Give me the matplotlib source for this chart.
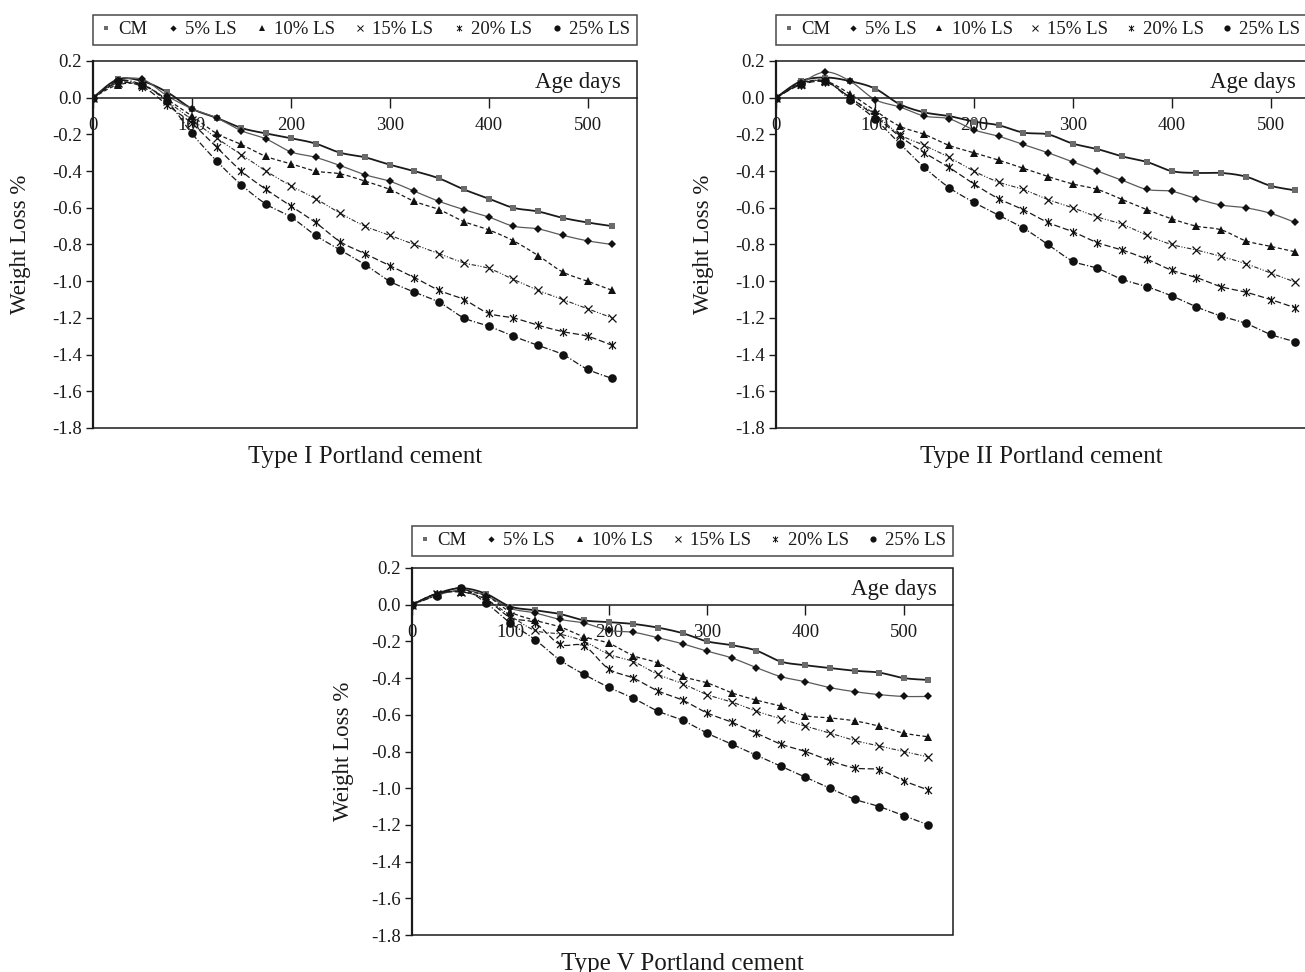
import numpy as np
import matplotlib
matplotlib.use("Agg")
import matplotlib.pyplot as plt
from matplotlib.patches import Rectangle
from matplotlib.lines import Line2D
from matplotlib.path import Path

plt.rcParams['font.family'] = ['Liberation Serif', 'DejaVu Serif']

# ---- data -------------------------------------------------------------
days = [0, 25, 50, 75, 100, 125, 150, 175, 200, 225, 250, 275, 300,
        325, 350, 375, 400, 425, 450, 475, 500, 525]
series_labels = ["CM", "5% LS", "10% LS", "15% LS", "20% LS", "25% LS"]
x_ticks = [0, 100, 200, 300, 400, 500]
y_ticks = [0.2, 0.0, -0.2, -0.4, -0.6, -0.8, -1.0, -1.2, -1.4, -1.6, -1.8]

# Type I Portland cement
t1_cm = [0, 0.10, 0.09, 0.03, -0.06, -0.11, -0.165, -0.195, -0.22, -0.25, -0.30,
         -0.325, -0.365, -0.40, -0.44, -0.50, -0.55, -0.60, -0.62, -0.655, -0.68, -0.70]
t1_ls5 = [0, 0.09, 0.10, 0.01, -0.06, -0.11, -0.18, -0.225, -0.295, -0.325, -0.37,
          -0.42, -0.455, -0.51, -0.565, -0.61, -0.65, -0.70, -0.715, -0.75, -0.78, -0.80]
t1_ls10 = [0, 0.07, 0.07, -0.01, -0.10, -0.195, -0.255, -0.32, -0.36, -0.40, -0.415,
           -0.455, -0.50, -0.565, -0.61, -0.675, -0.72, -0.78, -0.86, -0.95, -1.00, -1.05]
t1_ls15 = [0, 0.08, 0.07, -0.02, -0.12, -0.22, -0.31, -0.40, -0.48, -0.55, -0.63,
           -0.70, -0.75, -0.80, -0.85, -0.90, -0.93, -0.99, -1.05, -1.10, -1.15, -1.20]
t1_ls20 = [0, 0.08, 0.06, -0.04, -0.14, -0.27, -0.40, -0.50, -0.59, -0.68, -0.785,
           -0.85, -0.915, -0.98, -1.05, -1.10, -1.175, -1.20, -1.24, -1.275, -1.30, -1.35]
t1_ls25 = [0, 0.09, 0.07, -0.02, -0.195, -0.345, -0.475, -0.58, -0.65, -0.75, -0.83,
           -0.91, -1.00, -1.06, -1.115, -1.20, -1.245, -1.30, -1.35, -1.40, -1.48, -1.53]

# Type II Portland cement
t2_cm = [0, 0.09, 0.11, 0.09, 0.05, -0.035, -0.08, -0.10, -0.13, -0.15, -0.19,
         -0.20, -0.25, -0.28, -0.32, -0.35, -0.40, -0.41, -0.41, -0.43, -0.48, -0.505]
t2_ls5 = [0, 0.08, 0.14, 0.09, -0.01, -0.05, -0.10, -0.115, -0.175, -0.21, -0.255,
          -0.30, -0.35, -0.40, -0.45, -0.50, -0.51, -0.55, -0.585, -0.60, -0.63, -0.68]
t2_ls10 = [0, 0.08, 0.09, 0.02, -0.07, -0.155, -0.20, -0.26, -0.30, -0.34, -0.385,
           -0.43, -0.47, -0.50, -0.555, -0.61, -0.66, -0.70, -0.72, -0.78, -0.81, -0.84]
t2_ls15 = [0, 0.075, 0.09, 0.0, -0.09, -0.20, -0.26, -0.325, -0.40, -0.46, -0.50,
           -0.555, -0.60, -0.65, -0.69, -0.75, -0.80, -0.83, -0.865, -0.905, -0.955, -1.005]
t2_ls20 = [0, 0.07, 0.085, 0.0, -0.10, -0.21, -0.30, -0.38, -0.47, -0.55, -0.61,
           -0.68, -0.73, -0.79, -0.83, -0.88, -0.94, -0.98, -1.03, -1.06, -1.10, -1.145]
t2_ls25 = [0, 0.075, 0.09, -0.01, -0.115, -0.25, -0.38, -0.49, -0.57, -0.64, -0.71,
           -0.80, -0.89, -0.93, -0.99, -1.03, -1.08, -1.14, -1.19, -1.23, -1.29, -1.33]

# Type V Portland cement
t5_cm = [0, 0.06, 0.09, 0.06, -0.01, -0.03, -0.05, -0.085, -0.095, -0.105, -0.125,
         -0.155, -0.20, -0.22, -0.25, -0.31, -0.33, -0.345, -0.36, -0.37, -0.40, -0.41]
t5_ls5 = [0, 0.05, 0.08, 0.05, -0.02, -0.045, -0.08, -0.10, -0.14, -0.15, -0.18,
          -0.213, -0.253, -0.29, -0.343, -0.392, -0.42, -0.452, -0.474, -0.49, -0.50, -0.50]
t5_ls10 = [0, 0.06, 0.07, 0.05, -0.04, -0.085, -0.12, -0.175, -0.21, -0.278, -0.318,
           -0.39, -0.426, -0.48, -0.52, -0.553, -0.604, -0.617, -0.633, -0.662, -0.70, -0.72]
t5_ls15 = [0, 0.06, 0.07, 0.03, -0.06, -0.14, -0.16, -0.20, -0.27, -0.31, -0.38,
           -0.43, -0.49, -0.53, -0.58, -0.622, -0.662, -0.70, -0.74, -0.77, -0.80, -0.83]
t5_ls20 = [0, 0.06, 0.07, 0.03, -0.07, -0.10, -0.215, -0.225, -0.35, -0.40, -0.47,
           -0.52, -0.59, -0.64, -0.70, -0.76, -0.80, -0.85, -0.89, -0.90, -0.96, -1.01]
t5_ls25 = [0, 0.05, 0.09, 0.01, -0.10, -0.19, -0.30, -0.38, -0.45, -0.51, -0.58,
           -0.63, -0.70, -0.76, -0.82, -0.88, -0.94, -1.00, -1.06, -1.10, -1.15, -1.20]

panels = [
    ("Type I Portland cement", [t1_cm, t1_ls5, t1_ls10, t1_ls15, t1_ls20, t1_ls25]),
    ("Type II Portland cement", [t2_cm, t2_ls5, t2_ls10, t2_ls15, t2_ls20, t2_ls25]),
    ("Type V Portland cement", [t5_cm, t5_ls5, t5_ls10, t5_ls15, t5_ls20, t5_ls25]),
]

# ---- styling ----------------------------------------------------------
star_path = Path(
    [(-1, -1), (1, 1), (-1, 1), (1, -1), (0, -1.25), (0, 1.25)],
    [Path.MOVETO, Path.LINETO, Path.MOVETO, Path.LINETO, Path.MOVETO, Path.LINETO])

styles = [
    dict(ls='-', lw=1.3, color='#1a1a1a', marker='s', ms=4.8, mfc='#6b6b6b', mec='#6b6b6b', mew=0),
    dict(ls='-', lw=0.9, color='#5a5a5a', marker='D', ms=4.4, mfc='#111111', mec='#111111', mew=0),
    dict(ls=(0, (3.2, 2.0)), lw=0.9, color='#1a1a1a', marker='^', ms=6.2, mfc='#111111', mec='#111111', mew=0),
    dict(ls=(0, (4, 1.5, 1, 1.5, 1, 1.5)), lw=0.8, color='#2a2a2a', marker='x', ms=5.5, mfc='none', mec='#111111', mew=0.9),
    dict(ls=(0, (5, 2.2)), lw=0.9, color='#1a1a1a', marker=star_path, ms=6.2, mfc='none', mec='#111111', mew=0.9),
    dict(ls=(0, (5, 1.6, 1, 1.6)), lw=0.9, color='#1a1a1a', marker='o', ms=6.2, mfc='#111111', mec='#111111', mew=0),
]


def smooth_curve(x, y, n=24):
    """Catmull-Rom spline through the points (Excel style smoothed line)."""
    pts = np.column_stack([x, y]).astype(float)
    pts = np.vstack([pts[0], pts, pts[-1]])
    t = np.linspace(0, 1, n, endpoint=False)[:, None]
    segs = []
    for i in range(1, len(pts) - 2):
        p0, p1, p2, p3 = pts[i - 1], pts[i], pts[i + 1], pts[i + 2]
        seg = 0.5 * (2 * p1 + (-p0 + p2) * t + (2 * p0 - 5 * p1 + 4 * p2 - p3) * t ** 2
                     + (-p0 + 3 * p1 - 3 * p2 + p3) * t ** 3)
        segs.append(seg)
    segs.append(pts[-2][None, :])
    c = np.vstack(segs)
    return c[:, 0], c[:, 1]


W, H = 1305, 972
fig = plt.figure(figsize=(W / 100, H / 100), dpi=100)
fig.patch.set_facecolor('white')

# axes boxes in pixels: left, top, width, height
boxes = [(93, 61, 544, 367), (776, 61, 544, 367), (412, 568, 541, 367)]
ylab_x = [-0.114, -0.114, -0.107]
title_x = [0.5, 0.488, 0.5]
age_x = [0.97, 0.955, 0.97]
leg_bbox = [(0, 1.044, 1, 0.082), (0, 1.044, 0.975, 0.082), (0, 1.033, 1, 0.082)]

TXT = '#1a1a1a'

for k, (title, data) in enumerate(panels):
    l, t, w, h = boxes[k]
    ax = fig.add_axes([l / W, 1 - (t + h) / H, w / W, h / H])
    ax.set_xlim(0, 550)
    ax.set_ylim(-1.8, 0.2)

    for vals, st, lab in zip(data, styles, series_labels):
        xs, ys = smooth_curve(days, vals)
        ax.plot(xs, ys, ls=st['ls'], lw=st['lw'], color=st['color'], zorder=2)
        ax.plot(days, vals, ls='none', marker=st['marker'], ms=st['ms'],
                mfc=st['mfc'], mec=st['mec'], mew=st['mew'], zorder=3)

    # frame
    for s in ax.spines.values():
        s.set_visible(False)
    ax.spines['left'].set_visible(True)
    ax.spines['left'].set_linewidth(1.6)
    ax.spines['left'].set_color(TXT)
    ax.add_patch(Rectangle((0, 0), 1, 1, transform=ax.transAxes, fill=False,
                           lw=1.1, ec=TXT, zorder=5, clip_on=False))
    # category axis sits at zero
    ax.spines['bottom'].set_visible(True)
    ax.spines['bottom'].set_position(('data', 0))
    ax.spines['bottom'].set_linewidth(1.1)
    ax.spines['bottom'].set_color(TXT)

    ax.set_xticks(x_ticks)
    ax.set_xticklabels([str(v) for v in x_ticks])
    ax.set_yticks(y_ticks)
    ax.set_yticklabels([f"{v:.1f}" for v in y_ticks])
    ax.tick_params(axis='x', direction='out', length=7, width=1.0, pad=7,
                   labelsize=13.5, colors=TXT)
    ax.tick_params(axis='y', direction='out', length=5, width=1.0, pad=3,
                   labelsize=13.5, colors=TXT)

    ax.set_ylabel("Weight Loss %", fontsize=16.5, color=TXT)
    ax.yaxis.set_label_coords(ylab_x[k], 0.5)

    ax.text(age_x[k], 0.085, "Age days", transform=ax.get_yaxis_transform(),
            ha='right', va='center', fontsize=16.5, color=TXT)
    ax.text(title_x[k], -0.078, title, transform=ax.transAxes, ha='center',
            va='center', fontsize=18, color=TXT)

    handles = [Line2D([], [], ls='none', marker=st['marker'], ms=st['ms'] * 0.72,
                      mfc=st['mfc'], mec=st['mec'], mew=st['mew'] * 0.8)
               for st in styles]
    leg = ax.legend(handles, series_labels, ncol=6, mode='expand', loc='lower left',
                    bbox_to_anchor=leg_bbox[k], borderaxespad=0, fontsize=13.5,
                    frameon=True, fancybox=False, handlelength=0.7,
                    handletextpad=0.3, columnspacing=0.5, borderpad=0.35)
    leg.get_frame().set_edgecolor(TXT)
    leg.get_frame().set_linewidth(1.1)
    for tx in leg.get_texts():
        tx.set_color(TXT)

fig.savefig("out.png", dpi=100, facecolor='white')
